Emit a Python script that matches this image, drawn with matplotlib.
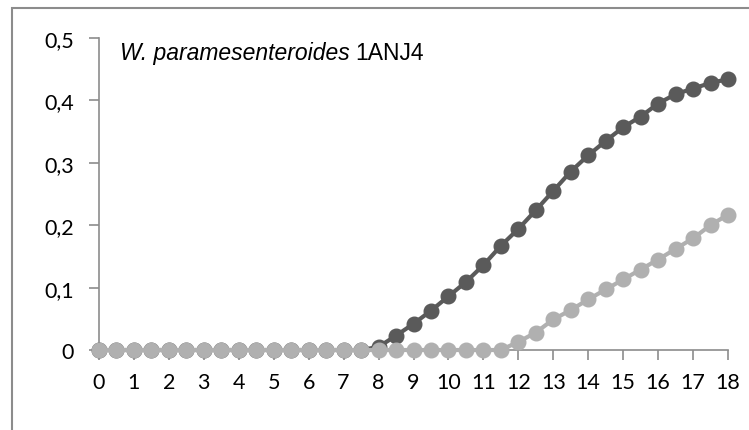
import matplotlib
matplotlib.use("Agg")
import matplotlib.pyplot as plt
from matplotlib.patches import Rectangle
import numpy as np

# time points every half unit, 0 .. 18
time = [i * 0.5 for i in range(37)]

dark = [0, 0, 0, 0, 0, 0, 0, 0, 0, 0, 0, 0, 0, 0, 0, 0,
        0.005, 0.023, 0.042, 0.063, 0.086, 0.109, 0.136, 0.167, 0.194,
        0.224, 0.255, 0.286, 0.312, 0.335, 0.357, 0.374, 0.395,
        0.410, 0.419, 0.428, 0.434]

light = [0, 0, 0, 0, 0, 0, 0, 0, 0, 0, 0, 0, 0, 0, 0, 0, 0, 0, 0, 0,
         0, 0, 0, 0, 0.013, 0.028, 0.049, 0.064, 0.081, 0.097, 0.113,
         0.129, 0.145, 0.162, 0.179, 0.200, 0.217]

xticks = list(range(19))
yticks = [0, 0.1, 0.2, 0.3, 0.4, 0.5]
ylabels = ['0', '0,1', '0,2', '0,3', '0,4', '0,5']

fig = plt.figure(figsize=(7.49, 4.31), dpi=100)
ax = fig.add_axes([99 / 749, 1 - 351 / 431, 629 / 749, 312 / 431])

# outer chart frame
fig.patches.append(Rectangle((12 / 749, -0.1), 1.1, 1 - 9 / 431 + 0.1,
                             transform=fig.transFigure, fill=False,
                             edgecolor='#8c8c8c', linewidth=1.5))

ax.plot(time, dark, color='#5a5a5a', lw=3, marker='o', ms=10.5,
        clip_on=False, zorder=3)
ax.plot(time, light, color='#b0b0b0', lw=3, marker='o', ms=10.5,
        clip_on=False, zorder=4)

ax.set_xlim(0, 18)
ax.set_ylim(0, 0.5)
ax.set_xticks(xticks)
ax.set_xticklabels([str(t) for t in xticks])
ax.set_yticks(yticks)
ax.set_yticklabels(ylabels)

for s in ['top', 'right']:
    ax.spines[s].set_visible(False)
for s in ['left', 'bottom']:
    ax.spines[s].set_color('#8c8c8c')
    ax.spines[s].set_linewidth(1.2)

ax.tick_params(axis='both', colors='#8c8c8c', length=7, width=1.2,
               labelcolor='black', labelsize=15.5)
ax.tick_params(axis='x', pad=9)
ax.tick_params(axis='y', pad=11)
for lab in ax.get_xticklabels() + ax.get_yticklabels():
    lab.set_family(['Lato', 'DejaVu Sans'])

t1 = ax.text(0.033, 0.955, 'W. paramesenteroides', transform=ax.transAxes,
             fontsize=16.5, style='italic', family='Liberation Sans',
             va='center', ha='left')
ax.annotate('1ANJ4', xy=(1, 0.5), xycoords=t1, xytext=(4, 0),
            textcoords='offset points', fontsize=16.5,
            family='Liberation Sans', va='center', ha='left')

fig.savefig('out.png', dpi=100)
